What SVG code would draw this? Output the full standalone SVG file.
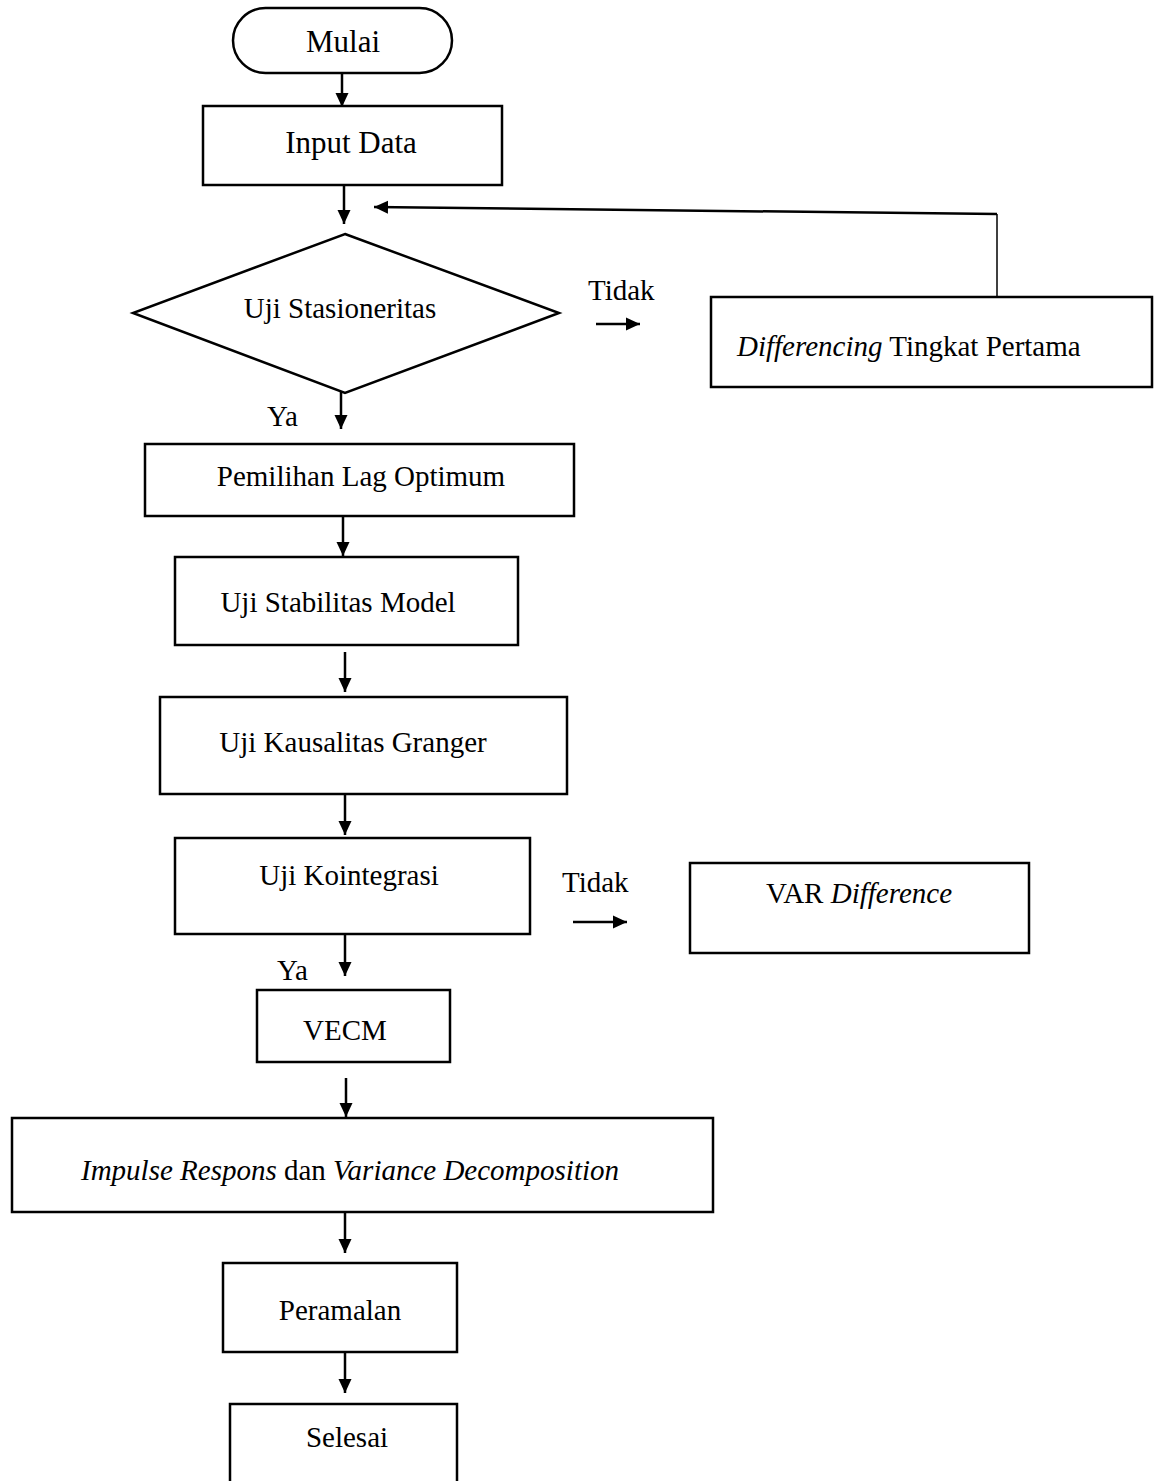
<svg xmlns="http://www.w3.org/2000/svg" width="1162" height="1481" viewBox="0 0 1162 1481">
<style>
.box{fill:#fff;stroke:#000;stroke-width:2.5}
.t{font-family:"Liberation Serif","Times New Roman",serif;font-size:29px;fill:#000}
.i{font-style:italic}
.c{fill:none;stroke:#000;stroke-width:2.5}
.thin{fill:none;stroke:#000;stroke-width:1.5}
</style>
<defs>
<marker id="ah" markerUnits="userSpaceOnUse" markerWidth="14" markerHeight="14" viewBox="0 0 14 14" refX="14" refY="7" orient="auto">
<path d="M0,0.5 L14,7 L0,13.5 Z" fill="#000"/>
</marker>
</defs>
<rect width="1162" height="1481" fill="#fff"/>
<g id="connectors">
<line class="c" x1="342" y1="73" x2="342" y2="107" marker-end="url(#ah)"/>
<line class="c" x1="344" y1="185" x2="344" y2="224" marker-end="url(#ah)"/>
<polyline class="thin" points="997,298 997,214"/>
<line class="c" x1="997" y1="214" x2="374" y2="207" marker-end="url(#ah)"/>
<line class="c" x1="596" y1="324" x2="640" y2="324" marker-end="url(#ah)"/>
<line class="c" x1="341" y1="392" x2="341" y2="429" marker-end="url(#ah)"/>
<line class="c" x1="343" y1="516" x2="343" y2="556" marker-end="url(#ah)"/>
<line class="c" x1="345" y1="652" x2="345" y2="692" marker-end="url(#ah)"/>
<line class="c" x1="345" y1="795" x2="345" y2="835" marker-end="url(#ah)"/>
<line class="c" x1="573" y1="922" x2="627" y2="922" marker-end="url(#ah)"/>
<line class="c" x1="345" y1="935" x2="345" y2="976" marker-end="url(#ah)"/>
<line class="c" x1="346" y1="1078" x2="346" y2="1117" marker-end="url(#ah)"/>
<line class="c" x1="345" y1="1213" x2="345" y2="1253" marker-end="url(#ah)"/>
<line class="c" x1="345" y1="1352" x2="345" y2="1393" marker-end="url(#ah)"/>
<text class="t" x="588" y="300">Tidak</text>
<text class="t" x="267" y="426">Ya</text>
<text class="t" x="562" y="892">Tidak</text>
<text class="t" x="277" y="980">Ya</text>
</g>
<g id="mulai">
<rect class="box" x="233" y="8" width="219" height="65" rx="32.5" ry="32.5"/>
<text class="t" x="343" y="52" text-anchor="middle" style="font-size:31px">Mulai</text>
</g>
<g id="input">
<rect class="box" x="203" y="106" width="299" height="79"/>
<text class="t" x="351" y="153" text-anchor="middle" style="font-size:31px">Input Data</text>
</g>
<g id="stasioneritas">
<polygon class="box" points="345,234 559,313 345,393 133,313"/>
<text class="t" x="340" y="318" text-anchor="middle">Uji Stasioneritas</text>
</g>
<g id="differencing">
<rect class="box" x="711" y="297" width="441" height="90"/>
<text class="t" x="737" y="356"><tspan class="i">Differencing</tspan> Tingkat Pertama</text>
</g>
<g id="lag">
<rect class="box" x="145" y="444" width="429" height="72"/>
<text class="t" x="361" y="486" text-anchor="middle">Pemilihan Lag Optimum</text>
</g>
<g id="stabilitas">
<rect class="box" x="175" y="557" width="343" height="88"/>
<text class="t" x="338" y="612" text-anchor="middle">Uji Stabilitas Model</text>
</g>
<g id="granger">
<rect class="box" x="160" y="697" width="407" height="97"/>
<text class="t" x="353" y="752" text-anchor="middle">Uji Kausalitas Granger</text>
</g>
<g id="kointegrasi">
<rect class="box" x="175" y="838" width="355" height="96"/>
<text class="t" x="349" y="885" text-anchor="middle">Uji Kointegrasi</text>
</g>
<g id="var">
<rect class="box" x="690" y="863" width="339" height="90"/>
<text class="t" x="859" y="903" text-anchor="middle">VAR <tspan class="i">Difference</tspan></text>
</g>
<g id="vecm">
<rect class="box" x="257" y="990" width="193" height="72"/>
<text class="t" x="345" y="1040" text-anchor="middle">VECM</text>
</g>
<g id="impulse">
<rect class="box" x="12" y="1118" width="701" height="94"/>
<text class="t" x="350" y="1180" text-anchor="middle"><tspan class="i">Impulse Respons</tspan> dan <tspan class="i">Variance Decomposition</tspan></text>
</g>
<g id="peramalan">
<rect class="box" x="223" y="1263" width="234" height="89"/>
<text class="t" x="340" y="1320" text-anchor="middle">Peramalan</text>
</g>
<g id="selesai">
<rect class="box" x="230" y="1404" width="227" height="100"/>
<text class="t" x="347" y="1447" text-anchor="middle">Selesai</text>
</g>
</svg>
